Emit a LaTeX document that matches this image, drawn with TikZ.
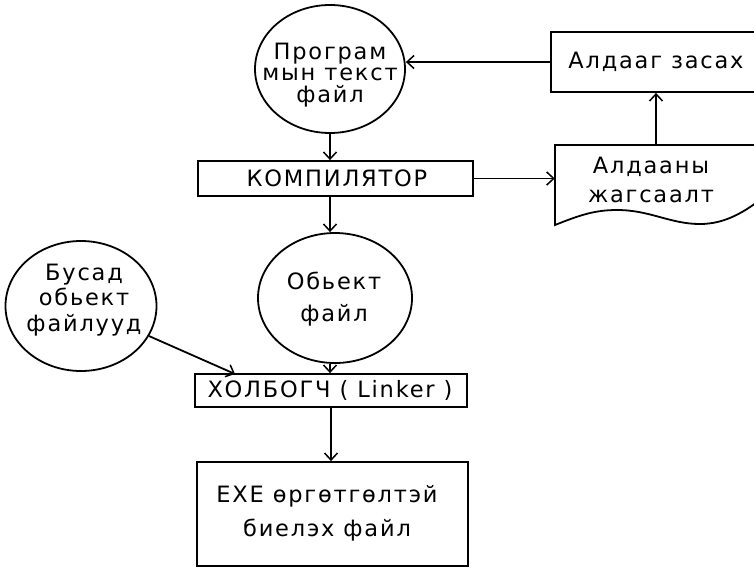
\documentclass[tikz,border=0pt]{standalone}
\usepackage{fontspec}
\newfontfamily\dfont[LetterSpace=8]{DejaVu Sans}
\usetikzlibrary{shapes.geometric,arrows.meta}
\tikzset{
  oval/.style={draw, ellipse, line width=1.8pt, inner sep=0pt},
  box/.style={draw, rectangle, line width=1.8pt, inner sep=0pt},
  txt/.style={font={\dfont\fontsize{22.5}{#1}\selectfont}, align=center, inner sep=0pt},
  txt/.default=25,
  arr/.style={line width=1.8pt, -{Straight Barb[length=7pt,width=13pt,line width=1.5pt]}},
}
\begin{document}
\begin{tikzpicture}[x=1pt,y=-1pt]
\useasboundingbox (0,0) rectangle (754,568);
\fill[white] (0,0) rectangle (754,568);

% shapes
\node[oval, minimum width=150pt, minimum height=128pt] (src) at (330,69) {};
\node[txt=21.5] (srct) at (330,75) {Програм\\мын текст\\файл};

\node[box, minimum width=275pt, minimum height=35pt] (comp) at (335.5,178.5) {};
\node[txt] (compt) at (337,178.5) {КОМПИЛЯТОР};

\node[box, minimum width=210pt, minimum height=60pt] (fix) at (656,62) {};
\node[txt] (fixt) at (656,62) {Алдааг засах};

\node[minimum width=202pt, minimum height=80pt, inner sep=0pt] (doc) at (656,185) {};
\draw[line width=1.8pt] (770,145) -- (555,145) -- (555,225)
  .. controls (580,215) and (595,210) .. (617,210)
  .. controls (650,210) and (670,224) .. (700,224)
  .. controls (725,224) and (745,212) .. (765,196);
\node[txt=29] (doct) at (651,180) {Алдааны\\жагсаалт};

\node[oval, minimum width=154pt, minimum height=130pt] (obj) at (335,298) {};
\node[txt=32] (objt) at (334,299) {Обьект\\файл};

\node[oval, minimum width=151pt, minimum height=130pt] (other) at (81,306) {};
\node[txt=25.5] (othert) at (84,300) {Бусад\\обьект\\файлууд};

\node[box, minimum width=272pt, minimum height=33pt] (link) at (331,390.5) {};
\node[txt] (linkt) at (330,390.5) {ХОЛБОГЧ ( Linker )};
\coordinate (linkin) at (235,374);

\node[box, minimum width=271pt, minimum height=104pt] (exe) at (332.5,514) {};
\node[txt=34] (exet) at (327,513) {EXE өргөтгөлтэй\\биелэх файл};

% connectors
\draw[arr] (fix.west) -- (fix.west -| src.east);
\draw[arr] (src.south) -- (src.south |- comp.north);
\draw[arr] (comp.east) -- (comp.east -| doc.west);
\draw[arr] (doc.north) -- (fix.south);
\draw[arr] (src.south |- comp.south) -- (src.south |- obj.north);
\draw[arr] (src.south |- obj.south) -- (src.south |- link.north);
\draw[arr] (other) -- (linkin);
\draw[arr] (link.south) -- (link.south |- exe.north);
\end{tikzpicture}
\end{document}
